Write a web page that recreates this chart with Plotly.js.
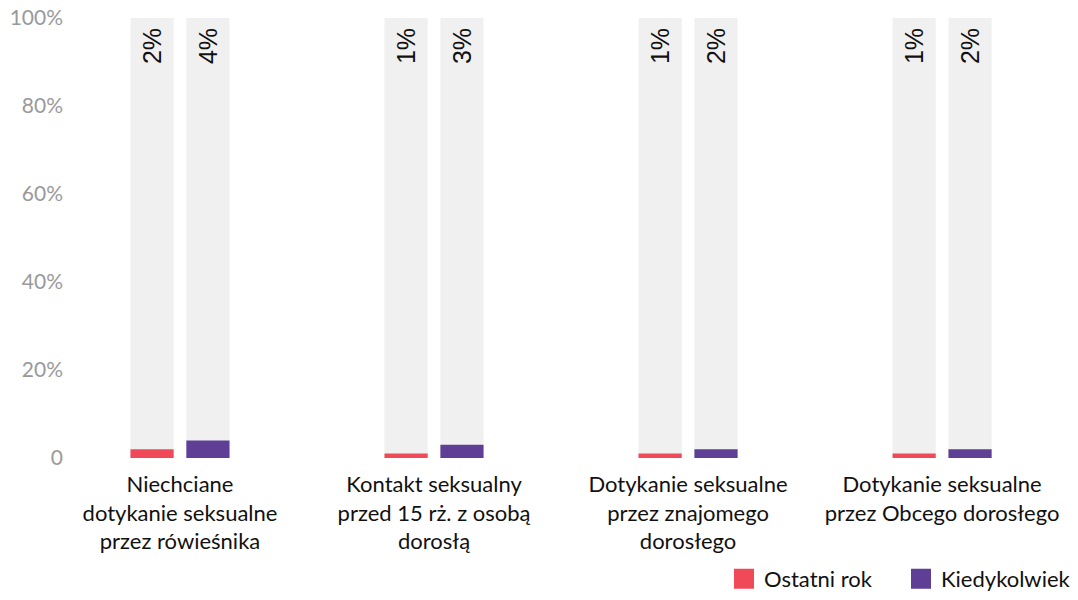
<!DOCTYPE html>
<html><head><meta charset="utf-8">
<script src="https://cdn.plot.ly/plotly-3.0.1.min.js"></script>
<style>body{margin:0}#c{width:1078px;height:600px}</style>
</head><body><div id="c"></div>
<script>
const categories = ["Niechciane<br>dotykanie seksualne<br>przez rówieśnika","Kontakt seksualny<br>przed 15 rż. z osobą<br>dorosłą","Dotykanie seksualne<br>przez znajomego<br>dorosłego","Dotykanie seksualne<br>przez Obcego dorosłego"];
const ostatniRok = [2,1,1,1];
const kiedykolwiek = [4,3,2,2];
const seriesNames = ["Ostatni rok","Kiedykolwiek"];
const full = [100,100,100,100];
const tickVals = [0,20,40,60,80,100];
const tickText = ["0","20%","40%","60%","80%","100%"];

const W = 0.17, OFF = [-0.195, 0.025];
const colors = ["#f04a58","#5f3f96"];
const series = [ostatniRok, kiedykolwiek];
const traces = [];
series.forEach((vals,i)=>{
  traces.push({type:'bar', x:categories, y:full, width:W, offset:OFF[i],
    marker:{color:'#f0f0f0'}, showlegend:false, hoverinfo:'skip',
    text: vals.map(v=>v+'%\u00a0'), textposition:'inside', insidetextanchor:'end',
    textangle:-90, textfont:{size:25,color:'#111',family:'Liberation Sans'}, constraintext:'none'});
});
series.forEach((vals,i)=>{
  traces.push({type:'bar', x:categories, y:vals, width:W, offset:OFF[i],
    marker:{color:colors[i]}, name:seriesNames[i], textposition:'none', showlegend:false});
});
series.forEach((vals,i)=>{
  traces.push({type:'scatter', mode:'markers', x:[null], y:[null], name:seriesNames[i],
    marker:{symbol:'square', size:21, color:colors[i], line:{width:4,color:colors[i]}}, showlegend:true});
});
const layout = {
  width:1078, height:600, barmode:'overlay',
  margin:{l:70,r:0,t:18,b:142},
  paper_bgcolor:'#fff', plot_bgcolor:'#fff',
  font:{family:'Lato', color:'#111'},
  xaxis:{type:'category', range:[-0.433,3.535], showgrid:false, zeroline:false, showline:false,
    ticks:'', tickfont:{size:22,color:'#111'}, automargin:false, ticklabelstandoff:11},
  yaxis:{range:[0,100], tickvals:tickVals, ticktext:tickText, showgrid:false, zeroline:false,
    showline:false, ticks:'', tickfont:{size:21,color:'#9a9a9a'}, ticklabelstandoff:6, automargin:false},
  legend:{orientation:'h', x:1, xanchor:'right', xref:'container', yref:'container', y:0, yanchor:'bottom',
    font:{size:22,color:'#111'}, traceorder:'normal', itemwidth:30, entrywidth:132, entrywidthmode:'pixels'},
  showlegend:true
};
Plotly.newPlot('c', traces, layout, {displayModeBar:false});
</script></body></html>
